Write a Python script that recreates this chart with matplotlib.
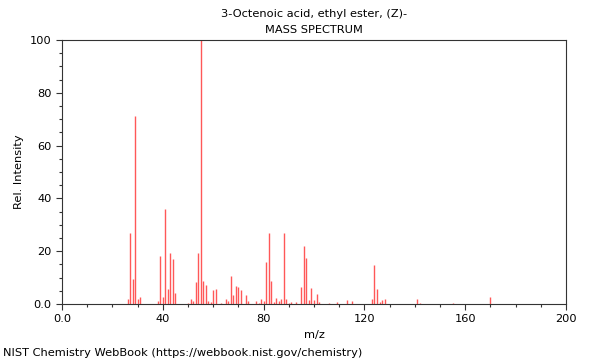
import numpy as np
import matplotlib
matplotlib.use("Agg")
import matplotlib.pyplot as plt
from matplotlib.ticker import MultipleLocator, FixedFormatter, FixedLocator

# peaks
mz = [26, 27, 28, 29, 30, 31, 38, 39, 40, 41, 42, 43, 44, 45,
      50, 51, 52, 53, 54, 55, 56, 57, 58, 59, 60, 61, 63, 65, 66, 67,
      68, 69, 70, 71, 73, 74, 77, 78, 79, 80, 81, 82, 83, 84, 85, 86,
      87, 88, 89, 90, 91, 93, 95, 96, 97, 98, 99, 100, 101, 102, 106,
      109, 113, 115, 123, 124, 125, 126, 127, 128, 141, 142, 155, 170]
intensity = [2.0, 27.0, 9.5, 71.3, 2.0, 2.5, 1.0, 18.3, 2.8, 35.9, 5.7, 19.4, 17.0, 4.2,
             0.5, 2.0, 1.3, 8.2, 19.4, 100.0, 8.6, 7.1, 1.1, 0.7, 5.3, 5.7, 0.5, 1.9, 1.3, 10.7,
             3.4, 6.8, 6.3, 5.3, 3.4, 1.3, 1.1, 0.5, 1.8, 1.0, 15.9, 26.8, 8.6, 0.8, 2.3, 1.0,
             1.8, 26.8, 1.8, 0.5, 0.8, 0.7, 6.4, 22.0, 17.6, 1.5, 5.9, 1.4, 3.8, 0.7, 0.5,
             0.7, 1.5, 1.0, 2.0, 14.8, 5.7, 0.8, 1.4, 1.8, 1.8, 0.3, 0.3, 2.5]

title = "3-Octenoic acid, ethyl ester, (Z)-"
xticks = [0, 40, 80, 120, 160, 200]
xlabels = ["0.0", "40", "80", "120", "160", "200"]
yticks = [0, 20, 40, 60, 80, 100]
ylabels = ["0.0", "20", "40", "60", "80", "100"]

fs = 8.2

fig = plt.figure(figsize=(6, 3.6), dpi=100)
ax = fig.add_axes([62/600, 1 - 304/360, 504/600, 264/360])

ax.vlines(mz, 0, intensity, color="#ff2020", alpha=0.75, linewidth=1)

ax.set_xlim(0, 200)
ax.set_ylim(0, 100)
ax.xaxis.set_major_locator(FixedLocator(xticks))
ax.xaxis.set_major_formatter(FixedFormatter(xlabels))
ax.xaxis.set_minor_locator(MultipleLocator(10))
ax.yaxis.set_major_locator(FixedLocator(yticks))
ax.yaxis.set_major_formatter(FixedFormatter(ylabels))
ax.yaxis.set_minor_locator(MultipleLocator(5))
ax.tick_params(which="both", labelsize=fs, width=0.8, color="#333333")
ax.tick_params(which="major", length=4)
ax.tick_params(which="minor", length=2.5)
for s in ax.spines.values():
    s.set_linewidth(0.8)
    s.set_color("#333333")

ax.set_xlabel("m/z", fontsize=fs)
ax.set_ylabel("Rel. Intensity", fontsize=fs)

fig.text(314/600, 1 - 14/360, title, ha="center", va="center", fontsize=fs)
fig.text(314/600, 1 - 30/360, "MASS SPECTRUM", ha="center", va="center", fontsize=fs)
fig.text(3/600, 1 - 353/360, "NIST Chemistry WebBook (https://webbook.nist.gov/chemistry)",
         ha="left", va="center", fontsize=fs)

fig.savefig("out.png", dpi=100)
